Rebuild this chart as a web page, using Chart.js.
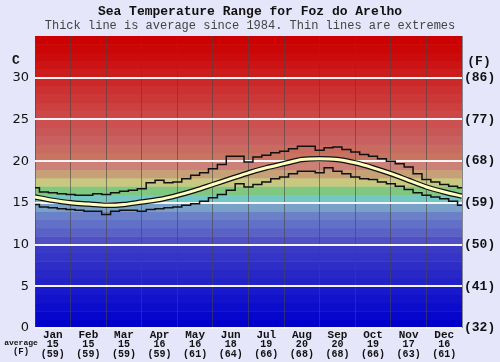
<!DOCTYPE html>
<html>
<head>
<meta charset="utf-8">
<script src="https://cdn.jsdelivr.net/npm/chart.js@4/dist/chart.umd.min.js"></script>
<style>
  html, body { margin: 0; padding: 0; background: #e6e6fa; }
  #wrap { width: 500px; height: 362px; }
</style>
</head>
<body>
<div id="wrap"><canvas id="chart" width="500" height="362"></canvas></div>
<script>
// Month names and the monthly average labels shown under the axis
const months = ['Jan', 'Feb', 'Mar', 'Apr', 'May', 'Jun', 'Jul', 'Aug', 'Sep', 'Oct', 'Nov', 'Dec'];
const monthAvgC = [15, 15, 15, 16, 16, 18, 19, 20, 20, 19, 17, 16];
const monthAvgF = [59, 59, 59, 59, 61, 64, 66, 68, 68, 66, 63, 61];

// Position in months (0 = 1 Jan, 12 = 31 Dec)
const avgPos = [0, 0.5, 1, 1.5, 2, 2.5, 3, 3.5, 4, 4.5, 5, 5.5, 6, 6.5, 7, 7.5, 8, 8.5, 9, 9.5, 10, 10.5, 11, 11.5, 12];
const avgTemp = [15.7, 15.3, 15.0, 14.85, 14.7, 14.8, 15.1, 15.4, 15.9, 16.5, 17.2, 17.9, 18.6, 19.2, 19.7, 20.2, 20.3, 20.2, 19.8, 19.2, 18.5, 17.7, 16.9, 16.3, 15.8];

const extPos = [0, 0.25, 0.5, 0.75, 1, 1.25, 1.5, 1.75, 2, 2.25, 2.5, 2.75, 3, 3.25, 3.5, 3.75,
  4, 4.25, 4.5, 4.75, 5, 5.25, 5.5, 5.75, 6, 6.25, 6.5, 6.75, 7, 7.25, 7.5, 7.75,
  8, 8.25, 8.5, 8.75, 9, 9.25, 9.5, 9.75, 10, 10.25, 10.5, 10.75, 11, 11.25, 11.5, 11.75, 12];
const maxTemp = [16.8, 16.3, 16.2, 16.1, 16.0, 15.9, 15.9, 16.1, 16.0, 16.2, 16.4, 16.5, 16.7, 17.4, 17.7, 17.4,
  17.5, 17.9, 18.3, 18.6, 19.1, 19.6, 20.6, 20.6, 19.9, 20.5, 20.7, 21.0, 21.2, 21.5, 21.8, 21.8,
  21.3, 21.6, 21.7, 21.4, 21.1, 20.8, 20.6, 20.3, 20.0, 19.7, 19.3, 18.5, 17.8, 17.5, 17.2, 17.0, 16.8];
const minTemp = [14.8, 14.5, 14.4, 14.3, 14.2, 14.1, 14.0, 14.0, 13.6, 14.0, 14.1, 14.1, 14.0, 14.2, 14.3, 14.4,
  14.5, 14.7, 14.9, 15.2, 15.6, 16.0, 16.5, 17.3, 16.9, 17.2, 17.5, 17.9, 18.1, 18.5, 18.8, 18.8,
  18.6, 19.2, 18.8, 18.5, 18.1, 17.9, 17.8, 17.5, 17.3, 17.0, 16.6, 16.2, 15.9, 15.7, 15.5, 15.2, 14.7];

const yTicks = [0, 5, 10, 15, 20, 25, 30];

// one colour per degree band, 0-1 at the start
const bandColors = [
  '#0000cc', '#0606cc', '#0c0ccc', '#1212cc', '#1818cc',
  '#2222c8', '#2828c6', '#2e2ec6', '#3434c6', '#3a3ac6',
  '#5050c4', '#5a62c6', '#6270c8', '#6a80c8', '#7aa2c8',
  '#74c8c4', '#80c880', '#c8c880', '#c8a078', '#cc8078',
  '#c87460', '#c86c60', '#c86060', '#c85858', '#cc5050',
  '#cc4848', '#cc4040', '#cc3838', '#cc3030', '#cc2828',
  '#cc1c1c', '#cc1414', '#cc0c0c', '#cc0606', '#cc0000'
];

const toPts = (xs, ys) => xs.map((x, i) => ({ x: x, y: ys[i] }));
const mono = "'Liberation Mono', 'DejaVu Sans Mono', monospace";

const bandsPlugin = {
  id: 'bands',
  beforeDraw(chart) {
    const { ctx, chartArea, scales } = chart;
    const y = scales.y;
    ctx.save();
    ctx.fillStyle = '#e6e6fa';
    ctx.fillRect(0, 0, chart.width, chart.height);
    bandColors.forEach((c, i) => {
      const top = y.getPixelForValue(i + 1);
      const bot = y.getPixelForValue(i);
      ctx.fillStyle = c;
      ctx.fillRect(chartArea.left, top, chartArea.right - chartArea.left, bot - top + 0.5);
    });
    ctx.restore();
  },
  afterDraw(chart) {
    const { ctx } = chart;
    ctx.save();
    ctx.fillStyle = '#111';
    ctx.textAlign = 'center';
    ctx.textBaseline = 'middle';
    ctx.font = 'bold 13px ' + mono;
    ctx.fillText('Sea Temperature Range for Foz do Arelho', 250, 12);
    ctx.fillStyle = '#444';
    ctx.font = '12px ' + mono;
    ctx.fillText('Thick line is average since 1984. Thin lines are extremes', 250, 26);
    ctx.fillStyle = '#111';
    ctx.font = 'bold 13px ' + mono;
    ctx.fillText('C', 16, 61);
    ctx.fillText('(F)', 479, 62);
    ctx.font = 'bold 8px ' + mono;
    ctx.fillText('average', 21, 343);
    ctx.font = 'bold 9px ' + mono;
    ctx.fillText('(F)', 21, 352);
    ctx.restore();
  }
};

new Chart(document.getElementById('chart'), {
  type: 'line',
  data: {
    datasets: [
      {
        // yellow core of the average line, drawn on top
        data: toPts(avgPos, avgTemp), borderColor: '#ffffc0', borderWidth: 3,
        pointRadius: 0, tension: 0.3, fill: false, order: 0
      },
      {
        data: toPts(avgPos, avgTemp), borderColor: '#111', borderWidth: 5.5,
        pointRadius: 0, tension: 0.3, fill: false, order: 1
      },
      {
        data: toPts(extPos, maxTemp), borderColor: '#111', borderWidth: 1.5,
        pointRadius: 0, stepped: 'middle', fill: false, order: 2
      },
      {
        data: toPts(extPos, minTemp), borderColor: '#111', borderWidth: 1.5,
        pointRadius: 0, stepped: 'middle', fill: false, order: 2
      }
    ]
  },
  options: {
    responsive: false,
    animation: false,
    layout: { padding: { top: 36, left: 0, right: 0, bottom: 0 } },
    plugins: { legend: { display: false }, tooltip: { enabled: false } },
    scales: {
      x: {
        type: 'linear', min: 0, max: 12, position: 'bottom',
        ticks: { display: false, stepSize: 1 },
        grid: { color: 'rgba(70,70,70,0.6)', lineWidth: 1, drawTicks: false },
        border: { display: false },
        afterFit(s) { s.height = 0; }
      },
      xm: {
        type: 'linear', min: 0, max: 12, position: 'bottom',
        afterBuildTicks(s) { s.ticks = months.map((m, i) => ({ value: i + 0.5 })); },
        ticks: {
          autoSkip: false, maxRotation: 0, padding: 1, color: '#111',
          font: { family: mono, size: 11, weight: 'bold' },
          callback: (v) => months[Math.floor(v)]
        },
        grid: { display: false, drawTicks: false },
        border: { display: false },
        afterFit(s) { s.height = 12; }
      },
      xv: {
        type: 'linear', min: 0, max: 12, position: 'bottom',
        afterBuildTicks(s) { s.ticks = months.map((m, i) => ({ value: i + 0.5 })); },
        ticks: {
          autoSkip: false, maxRotation: 0, padding: 0, color: '#111',
          font: { family: mono, size: 10, weight: 'bold', lineHeight: 0.95 },
          callback: (v) => {
            const i = Math.floor(v);
            return [String(monthAvgC[i]), '(' + monthAvgF[i] + ')'];
          }
        },
        grid: { display: false, drawTicks: false },
        border: { display: false },
        afterFit(s) { s.height = 22; }
      },
      y: {
        min: 0, max: 35, position: 'left',
        afterBuildTicks(s) { s.ticks = yTicks.map(v => ({ value: v })); },
        ticks: {
          color: '#111', padding: 6,
          font: { family: "'DejaVu Sans', sans-serif", size: 13 }
        },
        grid: { color: '#f4f4f4', lineWidth: 2, drawTicks: false },
        border: { display: false },
        afterFit(s) { s.width = 35; }
      },
      y2: {
        min: 0, max: 35, position: 'right',
        afterBuildTicks(s) { s.ticks = yTicks.map(v => ({ value: v })); },
        ticks: {
          color: '#111', padding: 2,
          font: { family: mono, size: 13, weight: 'bold' },
          callback: (v) => '(' + Math.round(v * 9 / 5 + 32) + ')'
        },
        grid: { display: false, drawTicks: false },
        border: { display: false },
        afterFit(s) { s.width = 38; }
      }
    }
  },
  plugins: [bandsPlugin]
});
</script>
</body>
</html>
